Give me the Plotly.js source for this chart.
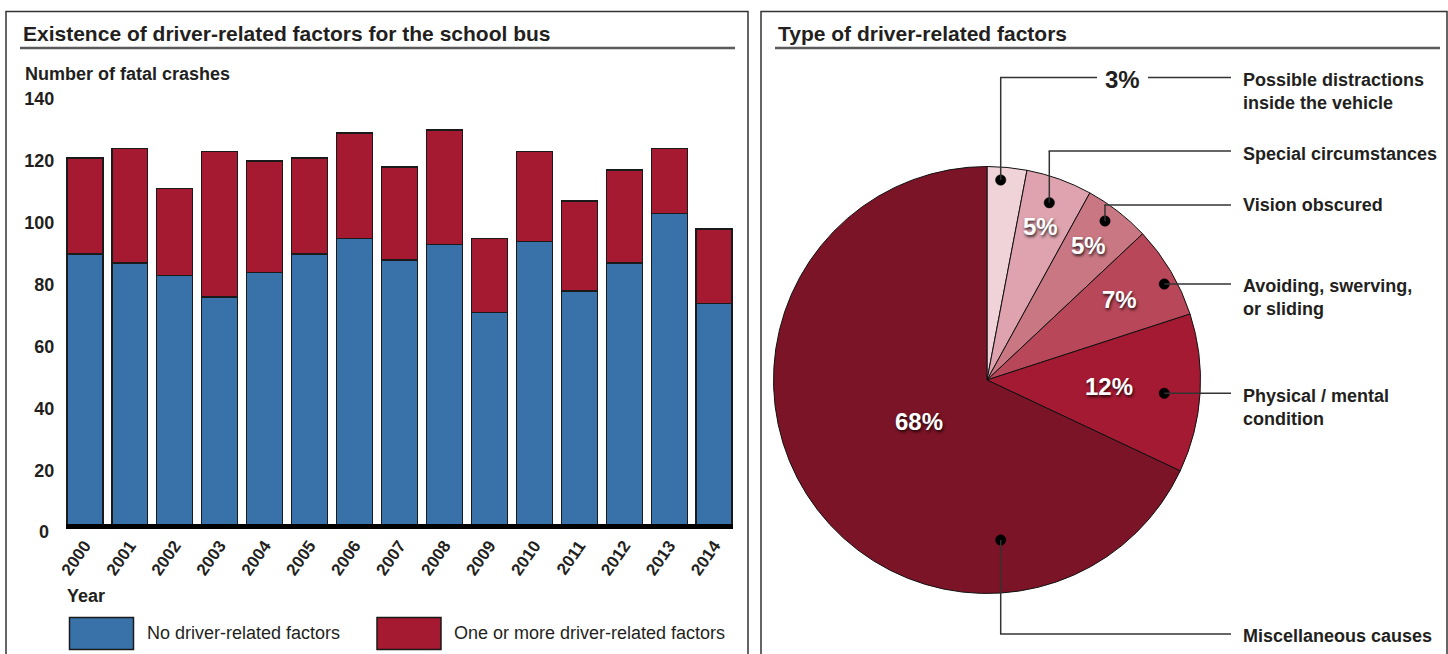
<!DOCTYPE html>
<html>
<head>
<meta charset="utf-8">
<script src="https://cdn.plot.ly/plotly-3.0.1.min.js"></script>
<style>
  html, body { margin: 0; padding: 0; background: #fff; overflow: hidden; }
  #chart { width: 1448px; height: 654px; }
</style>
</head>
<body>
<div id="chart"></div>
<script>
// ---------- DATA ----------
const years = ['2000','2001','2002','2003','2004','2005','2006','2007','2008','2009','2010','2011','2012','2013','2014'];
const noDriverFactors = [90, 87, 83, 76, 84, 90, 95, 88, 93, 71, 94, 78, 87, 103, 74];
const oneOrMoreFactors = [31, 37, 28, 47, 36, 31, 34, 30, 37, 24, 29, 29, 30, 21, 24];
const yTickVals = [20, 40, 60, 80, 100, 120, 140];

const factorLabels = ['Possible distractions inside the vehicle', 'Special circumstances', 'Vision obscured',
                      'Avoiding, swerving, or sliding', 'Physical / mental condition', 'Miscellaneous causes'];
const factorPct = [3, 5, 5, 7, 12, 68];
const factorText = ['3%', '5%', '5%', '7%', '12%', '68%'];

// ---------- STYLE / LAYOUT HELPERS ----------
const W = 1448, H = 654;
const X = px => px / W;
const Y = py => 1 - py / H;
const FONT = '"Liberation Sans", Arial, Helvetica, sans-serif';
const TXT = '#231f20';
const BLUE = '#3872a8';
const RED = '#a51a31';
const pieColors = ['#f0d3d8', '#dea3ae', '#c97783', '#b9475a', '#a51a33', '#7b1426'];

// bar axes geometry (pixels)
const zeroPx = 532.5, unitPx = 3.097, plotBottomPx = 524, plotTopPx = 95.8;
const yRange = [(zeroPx - plotBottomPx) / unitPx, (zeroPx - plotTopPx) / unitPx];

// pie geometry (pixels)
const pieCx = 987, pieCy = 380, pieR = 213.5;

const traces = [
  {
    type: 'bar', name: 'No driver-related factors', x: years, y: noDriverFactors,
    marker: { color: BLUE, line: { color: '#1a1a1a', width: 1.5 } },
    xaxis: 'x', yaxis: 'y', hovertemplate: '%{x}: %{y}<extra>No driver-related factors</extra>'
  },
  {
    type: 'bar', name: 'One or more driver-related factors', x: years, y: oneOrMoreFactors,
    marker: { color: RED, line: { color: '#1a1a1a', width: 1.5 } },
    xaxis: 'x', yaxis: 'y', hovertemplate: '%{x}: %{y}<extra>One or more driver-related factors</extra>'
  },
  {
    type: 'pie', labels: factorLabels, values: factorPct, sort: false, direction: 'clockwise', rotation: 0,
    marker: { colors: pieColors, line: { color: '#111', width: 1 } },
    textinfo: 'none', hoverinfo: 'label+percent',
    domain: { x: [X(pieCx - pieR), X(pieCx + pieR)], y: [Y(pieCy + pieR), Y(pieCy - pieR)] }
  }
];

const shapes = [];
const annotations = [];

function txt(text, xpx, ypx, opts) {
  opts = opts || {};
  annotations.push({
    text: text, x: X(xpx), y: Y(ypx), xref: 'paper', yref: 'paper', showarrow: false,
    xanchor: opts.xanchor || 'left', yanchor: opts.yanchor || 'middle', align: opts.align || 'left',
    font: Object.assign({ family: FONT, size: 18, color: TXT, weight: 700 }, opts.font || {})
  });
}
function line(x0, y0, x1, y1, color, width) {
  shapes.push({ type: 'line', xref: 'paper', yref: 'paper', x0: X(x0), y0: Y(y0), x1: X(x1), y1: Y(y1),
                line: { color: color || '#333', width: width || 1.5 } });
}
function rect(x0, y0, x1, y1, fill, lc, lw) {
  shapes.push({ type: 'rect', xref: 'paper', yref: 'paper', x0: X(x0), y0: Y(y0), x1: X(x1), y1: Y(y1),
                fillcolor: fill || 'rgba(0,0,0,0)', line: { color: lc || '#333', width: lw == null ? 1.5 : lw } });
}
function dot(x, y) {
  const r = 5.2;
  shapes.push({ type: 'circle', xref: 'paper', yref: 'paper', x0: X(x - r), y0: Y(y + r), x1: X(x + r), y1: Y(y - r),
                fillcolor: '#000', line: { color: '#000', width: 0.5 } });
}

// panels
rect(6, 11.5, 748, 700, null, '#333', 1.5);
rect(761, 11.5, 1447, 700, null, '#333', 1.5);
// titles + underlines
txt('Existence of driver-related factors for the school bus', 21, 33, { font: { size: 21 } });
line(20, 48, 735, 48, '#5a5a5a', 2.5);
txt('Type of driver-related factors', 776, 33, { font: { size: 21 } });
line(775, 48, 1440, 48, '#5a5a5a', 2.5);

// bar chart text
txt('Number of fatal crashes', 23, 74);
txt('0', 51, 532, { xanchor: 'right' });
txt('Year', 65, 596);
// legend
rect(69.5, 617.5, 133.5, 649.5, BLUE, '#1a1a1a', 1.5);
txt(traces[0].name, 145, 633, { font: { weight: 400 } });
rect(377, 617.5, 441, 649.5, RED, '#1a1a1a', 1.5);
txt(traces[1].name, 452, 633, { font: { weight: 400 } });

// pie labels inside slices (positioned from slice mid-angles)
const radialFactor = [null, 0.76, 0.79, 0.73, 0.58, 0.37];
const total = factorPct.reduce((a, b) => a + b, 0);
let cum = 0;
factorPct.forEach((v, i) => {
  const mid = (cum + v / 2) / total * 2 * Math.PI;
  cum += v;
  if (radialFactor[i] == null) return;
  const rr = pieR * radialFactor[i];
  txt(factorText[i], pieCx + rr * Math.sin(mid) - 1.5, pieCy - rr * Math.cos(mid) - 1,
      { xanchor: 'center', font: { size: 24, color: '#fff', shadow: '1px 2px 3px rgba(0,0,0,0.75)' } });
});

// callouts
const LC = '#333', LX = 1231, TX = 1241;
// 1: possible distractions
dot(1000.7, 180); line(1000.7, 180, 1000.7, 77.5, LC); line(1000, 77.5, 1097, 77.5, LC); line(1148, 77.5, LX, 77.5, LC);
txt(factorText[0], 1122.5, 80, { xanchor: 'center', font: { size: 24 } });
txt('Possible distractions<br>inside the vehicle', TX, 91);
// 2: special circumstances
dot(1049.3, 202.7); line(1049.3, 202.7, 1049.3, 151, LC); line(1048.6, 151, LX, 151, LC);
txt(factorLabels[1], TX, 154);
// 3: vision obscured
dot(1105, 221); line(1105, 221, 1105, 205, LC); line(1104.3, 205, LX, 205, LC);
txt(factorLabels[2], TX, 205);
// 4: avoiding
dot(1164.3, 284); line(1164.3, 284, LX, 284, LC);
txt('Avoiding, swerving,<br>or sliding', TX, 297);
// 5: physical / mental
dot(1164.3, 393.3); line(1164.3, 393.3, LX, 393.3, LC);
txt('Physical / mental<br>condition', TX, 407.5);
// 6: misc
dot(1000.7, 540); line(1000.7, 540, 1000.7, 634, LC); line(1000, 634, LX, 634, LC);
txt(factorLabels[5], TX, 636);

const layout = {
  width: W, height: H, margin: { l: 0, r: 0, t: 0, b: 0 },
  paper_bgcolor: '#fff', plot_bgcolor: 'rgba(0,0,0,0)',
  showlegend: false, barmode: 'stack', bargap: 0.2,
  font: { family: FONT, color: TXT },
  xaxis: {
    type: 'category', domain: [X(66), X(733)], range: [-0.4175, 14.4175],
    showline: true, linecolor: '#000', linewidth: 5, ticks: '', showgrid: false, zeroline: false,
    tickangle: -55, tickfont: { family: FONT, size: 17, color: TXT, weight: 700 }, fixedrange: true
  },
  yaxis: {
    domain: [Y(plotBottomPx), Y(plotTopPx)], range: yRange, tickvals: yTickVals,
    showline: false, showgrid: false, zeroline: false,
    ticks: 'outside', ticklen: 7, tickcolor: 'rgba(0,0,0,0)',
    tickfont: { family: FONT, size: 18, color: TXT, weight: 700 }, fixedrange: true
  },
  shapes: shapes,
  annotations: annotations
};

Plotly.newPlot('chart', traces, layout, { displayModeBar: false, staticPlot: true });
</script>
</body>
</html>
